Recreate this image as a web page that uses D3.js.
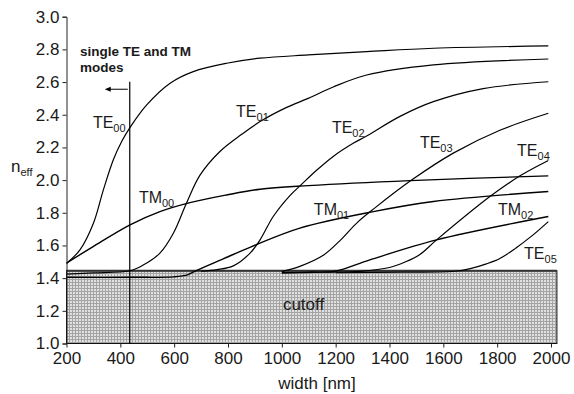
<!DOCTYPE html>
<html><head><meta charset="utf-8">
<script src="https://cdn.jsdelivr.net/npm/d3@7"></script>
<style>
body{margin:0;background:#fff}
svg{display:block}
text{font-family:"Liberation Sans",Arial,sans-serif;fill:#1a1a1a}
</style>
</head><body>
<svg id="c" width="574" height="394"></svg>
<script>
// ---- data ----
const xTicks=[200,400,600,800,1000,1200,1400,1600,1800,2000];
const yTicks=[1.0,1.2,1.4,1.6,1.8,2.0,2.2,2.4,2.6,2.8,3.0];
const cutoffN=1.445;
const singleModeWidth=435;

const te00W=[200,250,300,337,374,405,438,498,585,671,795,919,1098,1315,1563,1990];
const te00N=[1.49,1.573,1.736,1.94,2.124,2.236,2.327,2.46,2.593,2.664,2.715,2.746,2.766,2.786,2.807,2.821];
const tm00W=[200,299,436,547,659,795,919,1098,1476,1990];
const tm00N=[1.492,1.593,1.726,1.807,1.862,1.909,1.944,1.966,1.997,2.026];
const te01W=[200,300,435,485,547,597,646,696,770,851,919,1018,1098,1191,1315,1563,1990];
const te01N=[1.425,1.432,1.445,1.48,1.553,1.675,1.86,2.03,2.175,2.28,2.358,2.445,2.50,2.57,2.643,2.705,2.741];
const tm01W=[200,450,600,650,680,782,888,1067,1340,1563,1990];
const tm01N=[1.405,1.405,1.408,1.42,1.445,1.518,1.593,1.706,1.807,1.869,1.93];
const te02W=[700,760,820,882,919,968,1030,1074,1129,1191,1265,1315,1439,1563,1748,1990];
const te02N=[1.443,1.452,1.475,1.553,1.634,1.777,1.905,1.975,2.06,2.145,2.225,2.27,2.39,2.48,2.56,2.602];
const tm02W=[1000,1100,1197,1327,1575,1990];
const tm02N=[1.433,1.437,1.442,1.512,1.634,1.777];
const te03W=[1000,1067,1154,1216,1280,1346,1482,1637,1810,1990];
const te03N=[1.44,1.472,1.54,1.63,1.74,1.83,2.0,2.165,2.305,2.409];
const te04W=[1000,1150,1290,1400,1460,1513,1575,1773,1885,1990];
const te04N=[1.432,1.436,1.442,1.465,1.50,1.545,1.634,1.899,2.026,2.12];
const te05W=[1200,1450,1643,1700,1760,1810,1870,1930,1990];
const te05N=[1.433,1.437,1.442,1.458,1.487,1.52,1.585,1.66,1.746];

const seriesNames=["TE00","TM00","TE01","TM01","TE02","TM02","TE03","TE04","TE05"];
const seriesW=[te00W,tm00W,te01W,tm01W,te02W,tm02W,te03W,te04W,te05W];
const seriesN=[te00N,tm00N,te01N,tm01N,te02N,tm02N,te03N,te04N,te05N];

// label anchors (data units)
const labelMain=["TE","TE","TE","TE","TE","TE","TM","TM","TM"];
const labelSub=["00","01","02","03","04","05","00","01","02"];
const labelW=[298,830,1186,1513,1874,1900,469,1119,1803];
const labelN=[2.319,2.387,2.289,2.197,2.145,1.518,1.861,1.787,1.787];

// ---- drawing ----
const svg=d3.select("#c");
const x=d3.scaleLinear().domain([200,2000]).range([66.5,551]);
const y=d3.scaleLinear().domain([1,3]).range([343.5,16.7]);

// hatch pattern
const defs=svg.append("defs");
const pat=defs.append("pattern").attr("id","hatch").attr("patternUnits","userSpaceOnUse")
  .attr("width",3).attr("height",3);
pat.append("rect").attr("width",3).attr("height",3).attr("fill","#e0e0e0");
pat.append("path").attr("d","M0,0.5H3M0.5,0V3").attr("stroke","#a4a4a4").attr("stroke-width",1);

const boxRight=x(2022);
svg.append("rect").attr("x",x(200)).attr("y",y(cutoffN))
  .attr("width",boxRight-x(200)).attr("height",y(1)-y(cutoffN))
  .attr("fill","url(#hatch)").attr("stroke","#111").attr("stroke-width",1);
svg.append("line").attr("x1",x(200)).attr("x2",boxRight).attr("y1",y(cutoffN)).attr("y2",y(cutoffN))
  .attr("stroke","#333").attr("stroke-width",2);

// curves
const line=d3.line().curve(d3.curveCatmullRom.alpha(0.5));
seriesNames.forEach((nm,i)=>{
  const pts=seriesW[i].map((w,j)=>[x(w),y(seriesN[i][j])]);
  svg.append("path").attr("d",line(pts)).attr("fill","none")
    .attr("stroke","#000").attr("stroke-width",nm.startsWith("TM")?1.4:1.2);
});

// y axis
const yAx=svg.append("g").attr("transform",`translate(${x(200)},0)`)
  .call(d3.axisLeft(y).tickValues(yTicks).tickFormat(d3.format(".1f")).tickSize(4).tickPadding(3));
yAx.select(".domain").attr("stroke","#222");
yAx.selectAll("line").attr("stroke","#222");
yAx.selectAll("text").attr("font-size",17).attr("fill","#1a1a1a").attr("font-family","Liberation Sans, Arial, sans-serif");

// x axis
const xAx=svg.append("g").attr("transform",`translate(0,${y(1)})`)
  .call(d3.axisBottom(x).tickValues(xTicks).tickFormat(d3.format("d")).tickSize(4).tickPadding(4));
xAx.select(".domain").remove();
xAx.selectAll("line").attr("stroke","#222");
xAx.selectAll("text").attr("font-size",17).attr("fill","#1a1a1a").attr("font-family","Liberation Sans, Arial, sans-serif");

// axis titles
svg.append("text").attr("x",317).attr("y",389).attr("text-anchor","middle").attr("font-size",17).text("width [nm]");
const nt=svg.append("text").attr("x",11).attr("y",172).attr("font-size",17);
nt.append("tspan").text("n");
nt.append("tspan").attr("dy",4).attr("font-size",11).text("eff");

// single-mode line & arrow
svg.append("line").attr("x1",x(singleModeWidth)).attr("x2",x(singleModeWidth))
  .attr("y1",y(2.602)).attr("y2",y(1)).attr("stroke","#000").attr("stroke-width",1.2);
const ay=y(2.556), ax0=x(singleModeWidth)-2, ax1=x(singleModeWidth)-25;
svg.append("line").attr("x1",ax0).attr("x2",ax1+5).attr("y1",ay).attr("y2",ay).attr("stroke","#000").attr("stroke-width",1);
svg.append("path").attr("d",`M${ax1},${ay}L${ax1+6},${ay-2.5}L${ax1+6},${ay+2.5}Z`).attr("fill","#000");
svg.append("text").attr("x",x(250)).attr("y",y(2.76)).attr("font-size",13.5).attr("font-weight","bold").text("single TE and TM");
svg.append("text").attr("x",x(250)).attr("y",y(2.662)).attr("font-size",13.5).attr("font-weight","bold").text("modes");

// mode labels
labelMain.forEach((m,i)=>{
  const t=svg.append("text").attr("x",x(labelW[i])).attr("y",y(labelN[i])).attr("font-size",16);
  t.append("tspan").text(m);
  t.append("tspan").attr("dy",4).attr("font-size",11).text(labelSub[i]);
});

svg.append("text").attr("x",x(1004)).attr("y",y(1.206)).attr("font-size",17).text("cutoff");
</script>
</body></html>
